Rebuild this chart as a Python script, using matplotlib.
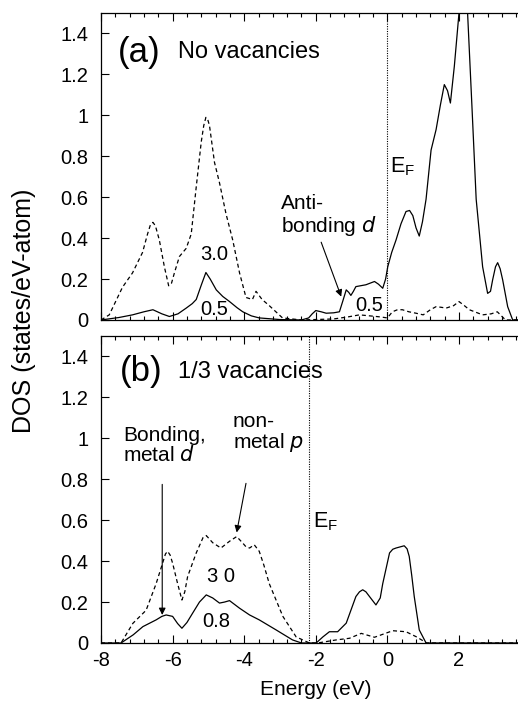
import matplotlib
matplotlib.use("Agg")
import matplotlib.pyplot as plt
from matplotlib.ticker import MultipleLocator, FixedLocator, FormatStrFormatter

plt.rcParams['font.family'] = ['Liberation Sans', 'DejaVu Sans']
plt.rcParams['axes.unicode_minus'] = False

# panel (a): no vacancies
a_solid_x = [-8.0, -7.5, -7.12, -6.8, -6.55, -6.3, -6.09, -5.85, -5.62, -5.45, -5.34,
             -5.2, -5.07, -4.95, -4.78, -4.6, -4.41, -4.2, -4.04, -3.8, -3.58,
             -3.0, -2.4, -2.2, -2.1, -2.0, -1.85, -1.71, -1.5, -1.34, -1.25, -1.15,
             -1.08, -1.02, -0.95, -0.88, -0.6, -0.36, -0.25, -0.13, -0.05, 0.01, 0.12,
             0.24, 0.38, 0.52, 0.62, 0.71, 0.8, 0.89, 0.98, 1.08, 1.22, 1.36, 1.48,
             1.59, 1.68, 1.76, 1.87, 2.0, 2.1, 2.24, 2.36, 2.48, 2.66, 2.8, 2.88,
             2.94, 3.02, 3.08, 3.15, 3.22, 3.36, 3.5, 4.0]
a_solid_y = [0.0, 0.012, 0.025, 0.04, 0.05, 0.03, 0.017, 0.03, 0.058, 0.08, 0.10,
             0.17, 0.232, 0.2, 0.147, 0.115, 0.09, 0.06, 0.04, 0.02, 0.01,
             0.002, 0.0, 0.01, 0.03, 0.046, 0.04, 0.033, 0.035, 0.04, 0.09, 0.147,
             0.135, 0.12, 0.14, 0.163, 0.172, 0.188, 0.175, 0.155, 0.2, 0.26, 0.33,
             0.39, 0.47, 0.53, 0.535, 0.51, 0.45, 0.41, 0.48, 0.59, 0.83, 0.93, 1.05,
             1.15, 1.12, 1.06, 1.24, 1.5, 1.6, 1.5, 1.05, 0.59, 0.26, 0.13, 0.14,
             0.196, 0.26, 0.28, 0.25, 0.196, 0.065, 0.0, 0.0]

a_dash_x = [-8.0, -7.77, -7.4, -7.12, -6.84, -6.7, -6.62, -6.55, -6.48, -6.37, -6.23,
            -6.11, -6.03, -5.95, -5.81, -5.62, -5.48, -5.34, -5.2, -5.13, -5.07, -5.02,
            -4.97, -4.83, -4.69, -4.51, -4.32, -4.13, -3.95, -3.77, -3.67, -3.5, -3.3,
            -2.93, -2.4, -1.5, -1.1, -0.78, -0.2, 0.0, 0.14, 0.28, 0.42, 0.6, 0.8,
            1.0, 1.2, 1.36, 1.5, 1.64, 1.85, 2.0, 2.15, 2.29, 2.66, 2.9, 3.07, 3.3, 4.0]
a_dash_y = [0.0, 0.025, 0.16, 0.23, 0.33, 0.42, 0.465, 0.477, 0.46, 0.39, 0.26,
            0.167, 0.18, 0.23, 0.31, 0.35, 0.42, 0.65, 0.87, 0.95, 0.99, 0.98,
            0.95, 0.77, 0.67, 0.52, 0.39, 0.23, 0.11, 0.10, 0.14, 0.1, 0.07,
            0.01, 0.0, 0.005, 0.015, 0.025, 0.015, 0.01, 0.04, 0.05, 0.05, 0.04, 0.033,
            0.025, 0.05, 0.065, 0.062, 0.058, 0.07, 0.09, 0.07, 0.05, 0.025, 0.03, 0.04, 0.0, 0.0]

# panel (b): 1/3 vacancies
b_solid_x = [-8.0, -7.44, -7.1, -6.83, -6.46, -6.3, -6.18, -6.0, -5.86, -5.74, -5.6,
             -5.44, -5.25, -5.06, -4.88, -4.69, -4.55, -4.41, -4.13, -3.85, -3.58,
             -3.11, -2.65, -2.4, -1.99, -1.8, -1.62, -1.39, -1.15, -0.88, -0.78, -0.69,
             -0.6, -0.5, -0.32, -0.2, -0.13, 0.06, 0.15, 0.24, 0.47, 0.55, 0.61, 0.68,
             0.75, 0.89, 1.08, 4.0]
b_solid_y = [0.0, 0.0, 0.04, 0.08, 0.113, 0.13, 0.137, 0.13, 0.095, 0.072, 0.1,
             0.146, 0.2, 0.235, 0.22, 0.195, 0.2, 0.207, 0.17, 0.137, 0.113,
             0.064, 0.015, 0.0, 0.0, 0.03, 0.055, 0.055, 0.097, 0.227, 0.25, 0.26,
             0.25, 0.227, 0.186, 0.22, 0.29, 0.44, 0.458, 0.464, 0.475, 0.46, 0.423, 0.33,
             0.227, 0.064, 0.0, 0.0]

b_dash_x = [-8.0, -7.44, -7.11, -6.74, -6.46, -6.28, -6.2, -6.14, -6.07, -6.0, -5.86,
            -5.74, -5.66, -5.58, -5.34, -5.15, -5.06, -4.88, -4.65, -4.41, -4.21, -4.05,
            -3.95, -3.85, -3.72, -3.58, -3.45, -3.3, -2.92, -2.55, -2.18, -1.95, -1.43,
            -1.06, -0.73, -0.36, 0.15, 0.52, 0.8, 1.1, 4.0]
b_dash_y = [0.0, 0.0, 0.096, 0.16, 0.29, 0.39, 0.435, 0.448, 0.43, 0.39, 0.29,
            0.21, 0.25, 0.325, 0.44, 0.515, 0.525, 0.49, 0.464, 0.497, 0.52, 0.49,
            0.47, 0.464, 0.48, 0.448, 0.38, 0.29, 0.13, 0.03, 0.0, 0.0, 0.015,
            0.023, 0.047, 0.028, 0.06, 0.055, 0.031, 0.0, 0.0]

fermi_a = 0.0
fermi_b = -2.2
x_major = [-8, -6, -4, -2, 0, 2, 4]

fig = plt.figure(figsize=(5.18, 7.09), dpi=100)
ax_a = fig.add_axes([0.195, 0.5487, 0.8293, 0.433])
ax_b = fig.add_axes([0.195, 0.0931, 0.8293, 0.433])

dash = (0, (3.2, 2.4))
for ax in (ax_a, ax_b):
    ax.set_xlim(-8, 4)
    ax.set_ylim(0, 1.5)
    ax.xaxis.set_major_locator(FixedLocator(x_major))
    ax.xaxis.set_minor_locator(MultipleLocator(0.4))
    ax.yaxis.set_major_locator(MultipleLocator(0.2))
    ax.yaxis.set_major_formatter(FormatStrFormatter('%g'))
    ax.tick_params(which='both', direction='in', top=True, right=True, labelsize=14.5, width=0.8)
    ax.tick_params(which='major', length=6)
    ax.tick_params(which='minor', length=3)
    ax.tick_params(axis='y', pad=9)
    ax.tick_params(axis='x', pad=6)
    for sp in ax.spines.values():
        sp.set_linewidth(0.9)

ax_a.tick_params(labelbottom=False)
ax_b.set_xticklabels(['-8', '-6', '-4', '-2', '0', '2', ''])

# panel (a)
ax_a.plot(a_solid_x, a_solid_y, color='black', lw=0.9)
ax_a.plot(a_dash_x, a_dash_y, color='black', lw=0.9, linestyle=dash)
ax_a.axvline(fermi_a, color='black', lw=0.8, linestyle=(0, (1, 1.2)))
ax_a.text(0.04, 0.87, '(a)', transform=ax_a.transAxes, fontsize=25, va='center')
ax_a.text(0.18, 0.873, 'No vacancies', transform=ax_a.transAxes, fontsize=17, va='center')
ax_a.text(-4.83, 0.32, '3.0', fontsize=14.5, ha='center', va='center')
ax_a.text(-4.83, 0.05, '0.5', fontsize=14.5, ha='center', va='center')
ax_a.text(-0.5, 0.07, '0.5', fontsize=14.5, ha='center', va='center')
ax_a.text(0.06, 0.75, r'E$_\mathregular{F}$', fontsize=15.5, ha='left', va='center')
ax_a.text(-2.97, 0.51, 'Anti-\nbonding $\\it{d}$', fontsize=15, ha='left', va='center',
          linespacing=1.05)
ax_a.annotate('', xy=(-1.29, 0.114), xytext=(-1.85, 0.38),
              arrowprops=dict(arrowstyle='-|>', color='black', lw=0.8,
                              mutation_scale=10, shrinkA=0, shrinkB=0))

# panel (b)
ax_b.plot(b_solid_x, b_solid_y, color='black', lw=0.9)
ax_b.plot(b_dash_x, b_dash_y, color='black', lw=0.9, linestyle=dash)
ax_b.axvline(fermi_b, color='black', lw=0.8, linestyle=(0, (1, 1.2)))
ax_b.text(0.045, 0.884, '(b)', transform=ax_b.transAxes, fontsize=25, va='center')
ax_b.text(0.18, 0.884, '1/3 vacancies', transform=ax_b.transAxes, fontsize=17, va='center')
ax_b.text(-4.65, 0.325, '3 0', fontsize=14.5, ha='center', va='center')
ax_b.text(-4.78, 0.105, '0.8', fontsize=14.5, ha='center', va='center')
ax_b.text(-2.08, 0.595, r'E$_\mathregular{F}$', fontsize=15.5, ha='left', va='center')
ax_b.text(-7.39, 0.965, 'Bonding,\nmetal $\\it{d}$', fontsize=15, ha='left', va='center',
          linespacing=1.0)
ax_b.text(-4.32, 1.025, 'non-\nmetal $\\it{p}$', fontsize=15, ha='left', va='center',
          linespacing=1.0)
ax_b.annotate('', xy=(-6.29, 0.137), xytext=(-6.29, 0.775),
              arrowprops=dict(arrowstyle='-|>', color='black', lw=0.8,
                              mutation_scale=10, shrinkA=0, shrinkB=0))
ax_b.annotate('', xy=(-4.21, 0.54), xytext=(-3.95, 0.78),
              arrowprops=dict(arrowstyle='-|>', color='black', lw=0.8,
                              mutation_scale=10, shrinkA=0, shrinkB=0))
ax_b.set_xlabel('Energy (eV)', fontsize=15, labelpad=7)

fig.text(0.047, 0.561, 'DOS (states/eV-atom)', rotation=90, fontsize=18,
         ha='center', va='center')

fig.savefig('out.png', dpi=100)
